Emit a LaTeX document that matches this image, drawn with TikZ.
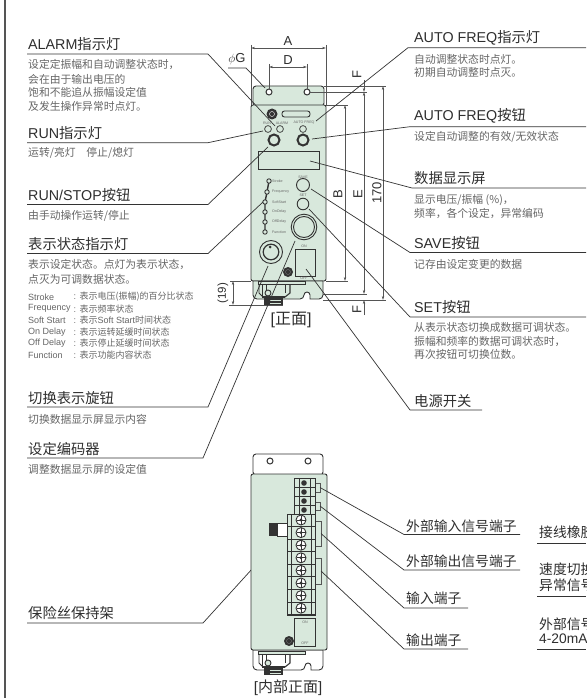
\documentclass[tikz,border=0pt]{standalone}
\usepackage{fontspec}
\setmainfont{Liberation Sans}
\newfontfamily\cjk{Noto Sans CJK SC}
\usetikzlibrary{arrows.meta}
\newcommand{\Z}[1]{{\cjk #1}}
\definecolor{panel}{HTML}{D8E8DC}
\definecolor{ink}{HTML}{2E2E2E}
\definecolor{soft}{HTML}{666666}
\definecolor{edge}{HTML}{333333}
\definecolor{dimc}{HTML}{555555}
\tikzset{
 title/.style={anchor=west,inner sep=0pt,text=ink,font=\fontsize{14.3}{14.3}\selectfont},
 desc/.style={anchor=west,inner sep=0pt,text=soft,font=\fontsize{10.8}{10.8}\selectfont},
 listt/.style={anchor=west,inner sep=0pt,text=soft,font=\fontsize{9}{9}\selectfont},
 tiny/.style={inner sep=0pt,text=soft,font=\fontsize{3.6}{3.6}\selectfont},
 dimt/.style={inner sep=0pt,text=ink,font=\fontsize{13}{13}\selectfont},
 leader/.style={draw=edge,line width=.7pt},
 dimline/.style={draw=dimc,line width=.6pt,{Stealth[length=4pt,width=2.4pt]}-{Stealth[length=4pt,width=2.4pt]}},
 oneway/.style={draw=dimc,line width=.6pt,-{Stealth[length=4pt,width=2.4pt]}},
 ext/.style={draw=dimc,line width=.8pt},
 case/.style={draw=edge,line width=.9pt},
 led/.style={draw=edge,fill=panel,line width=.7pt},
 knob/.style={draw=edge,fill=panel,line width=2pt},
 ring/.style={draw=edge,fill=panel,line width=.9pt},
 brk/.style={draw=dimc,line width=.7pt},
}
\newcommand{\connector}{%
 \draw[edge,line width=.7pt,fill=panel] (258,281) rectangle (305,284);
 \draw[edge,line width=.9pt] (259,284) -- (259,293) -- (263,297);
 \draw[edge,line width=1.1pt] (290,284) -- (290,293) -- (285,297);
 \draw[edge,line width=.7pt] (285,285) -- (285,293);
 \draw[edge,line width=1.4pt] (262.5,285) -- (262.5,297) -- (285,297);
 \draw[edge,line width=.7pt] (266,285) -- (266,291);
 \draw[edge,line width=.9pt,fill=panel] (268,293) circle[radius=3pt];
 \fill[edge] (264,298) rectangle (283,305);
 \draw[panel,line width=.7pt] (270,300) -- (281,300) (270,303) -- (281,303);
}
\begin{document}
\begin{tikzpicture}[x=1pt,y=-1pt]
\useasboundingbox (0,0) rectangle (586,698);
\fill[white] (0,0) rectangle (586,698);
\draw[dimc,line width=1.6pt] (5,0) -- (5,698);

% ---------- upper device ----------
\draw[case,fill=panel] (253,106) -- (253,90) [rounded corners=3pt] -- (253,86) -- (324,86) -- (324,106) -- cycle;
\draw[case,fill=panel,rounded corners=2pt] (251,105) rectangle (326,281);
\draw[case,fill=panel] (253,281) [rounded corners=4pt] -- (253,299) -- (304,299) [sharp corners] -- (304,295) arc[start angle=180,end angle=0,radius=3pt] -- (310,299) [rounded corners=4pt] -- (323,299) [sharp corners] -- (323,281) -- cycle;
\connector
\draw[led,line width=1pt,fill=white] (269,92) circle[radius=3pt];
\draw[led,line width=1pt,fill=white] (307,92) circle[radius=3pt];
\fill[edge] (272,114) circle[radius=5.5pt];
\draw[white,line width=.4pt] (272,114) circle[radius=2.5pt];
\draw[case,fill=panel,rounded corners=2.5pt] (282,111) rectangle (310,117);
\node[tiny] (trun) at (267,123) {RUN};
\node[tiny] (talarm) at (282,123) {ALARM};
\node[tiny] (tauto) at (304,123) {AUTO FREQ};
\draw[led] (268,129) circle[radius=3.4pt];
\draw[led] (280,129) circle[radius=3.4pt];
\draw[led] (303,129) circle[radius=3.4pt];
\draw[knob] (274,140) circle[radius=5.5pt];
\draw[knob] (303,140) circle[radius=5.5pt];
\draw[case,fill=panel] (258,151) rectangle (319,169);
\draw[edge,line width=1.4pt] (269,181) -- (267,192) -- (265,202) -- (265,232);
\foreach \nm/\y/\x in {Stroke/181/269,Frequency/192/267,SoftStart/202/265,OnDelay/212/265,OffDelay/222/265,Function/232/265}{
 \draw[led,line width=.9pt] (\x,\y) circle[radius=2.2pt];
 \node[tiny,anchor=west] (t\nm) at (272,\y) {\nm};
}
\node[tiny] (tsave) at (303,177) {SAVE};
\draw[ring] (303,185) circle[radius=6.5pt];
\node[tiny] (tset) at (303,195) {SET};
\draw[ring] (303,204) circle[radius=5.8pt];
\draw[ring] (304,227) circle[radius=12.8pt];
\draw[ring] (304,227) circle[radius=10.5pt];
\draw[ring] (271,252) circle[radius=11.5pt];
\draw[draw=edge,fill=panel,line width=1.2pt] (271,252) circle[radius=7.8pt];
\fill[edge] (270,247) circle[radius=1.5pt];
\fill[edge] (288,272) circle[radius=5pt];
\draw[gray,line width=.3pt] (288,272) circle[radius=2.5pt];
\draw[case,fill=panel] (295,249) rectangle (315,276);
\node[tiny] (ton) at (304,246) {ON};
\node[tiny] (toff) at (304,278.5) {OFF};
\node[inner sep=0pt,text=ink,font=\fontsize{16}{16}\selectfont] (front) at (291,320) {[\Z{正面}]};

% ---------- dimensions, upper device ----------
\coordinate (lx) at (251,105); \coordinate (rx) at (326,105);
\draw[ext] (251,45) -- (lx);
\draw[ext] (326,45) -- (rx);
\draw[dimline] (251,48) -- (326,48);
\node[dimt] (dA) at (288,41) {A};
\draw[ext] (269,64) -- (269,89);
\draw[ext] (307,64) -- (307,89);
\draw[dimline] (269,67) -- (307,67);
\node[dimt] (dD) at (288,60) {D};
\node[dimt] (dG) at (237,59.5) {$\phi$G};
\coordinate (gA) at (228,68); \coordinate (gB) at (246,68); \coordinate (gC) at (265,88);
\draw[leader] (gA) -- (gB) -- (gC);
\draw[ext,line width=.6pt] (324,86) -- (386,86);
\draw[ext] (310,92) -- (367,92);
\draw[ext,line width=.6pt] (326,105) -- (348,105);
\draw[ext,line width=.6pt] (326,281) -- (348,281);
\draw[ext,line width=.6pt] (323,294) -- (367,294);
\draw[ext,line width=.6pt] (229,305) -- (283,305);
\draw[ext,line width=.6pt] (323,300) -- (386,300);
\draw[ext,line width=.6pt] (230,281) -- (251,281);
\draw[dimline] (345,105) -- (345,281);
\draw[dimline] (364,92) -- (364,294);
\draw[dimline] (383,86) -- (383,300);
\draw[dimline] (233,281) -- (233,305);
\draw[oneway] (364,80) -- (364,92);
\draw[oneway] (364,315) -- (364,300);
\node[dimt,rotate=90] (dFa) at (357,75) {F};
\node[dimt,rotate=90] (dB) at (338,194) {B};
\node[dimt,rotate=90] (dE) at (358,194) {E};
\node[dimt,rotate=90] (d170) at (377,193) {170};
\node[dimt,rotate=90] (dFb) at (357,310) {F};
\node[dimt,rotate=90,font=\fontsize{11.5}{11.5}\selectfont] (d19) at (223,293) {(19)};

% ---------- left labels ----------
\node[title] (n1) at (28,44) {ALARM\Z{指示灯}};
\node[desc] (n1a) at (28,65) {\Z{设定定振幅和自动调整状态时，}};
\node[desc] (n1b) at (28,79) {\Z{会在由于输出电压的}};
\node[desc] (n1c) at (28,92.5) {\Z{饱和不能追从振幅设定值}};
\node[desc] (n1d) at (28,106) {\Z{及发生操作异常时点灯。}};
\draw[leader] (27,54) coordinate (c1a) -- (208,54) coordinate (c1b) -- (275,126) coordinate (c1c);

\node[title] (n2) at (28,133) {RUN\Z{指示灯}};
\node[desc] (n2a) at (28,153) {\Z{运转/亮灯\quad 停止/熄灯}};
\draw[leader] (27,142.7) coordinate (c2a) -- (208,142.7) coordinate (c2b) -- (263,131) coordinate (c2c);

\node[title] (n3) at (28,195) {RUN/STOP\Z{按钮}};
\node[desc] (n3a) at (28,216) {\Z{由手动操作运转/停止}};
\draw[leader] (27,204.5) coordinate (c3a) -- (208,204.5) coordinate (c3b) -- (268,147) coordinate (c3c);

\node[title] (n4) at (28,244) {\Z{表示状态指示灯}};
\node[desc] (n4a) at (28,265) {\Z{表示设定状态。点灯为表示状态，}};
\node[desc] (n4b) at (28,279) {\Z{点灭为可调数据状态。}};
\draw[leader] (27,253.5) coordinate (c4a) -- (208,253.5) coordinate (c4b) -- (263,202) coordinate (c4c);

\node[listt] (l1a) at (28,297) {Stroke};
\node[listt] (l2a) at (28,308.7) {Frequency};
\node[listt] (l3a) at (28,320.3) {Soft Start};
\node[listt] (l4a) at (28,332) {On Delay};
\node[listt] (l5a) at (28,343.5) {Off Delay};
\node[listt] (l6a) at (28,355) {Function};
\node[listt] (l1b) at (73.5,297) {: \Z{表示电压(振幅)的百分比状态}};
\node[listt] (l2b) at (73.5,308.7) {: \Z{表示频率状态}};
\node[listt] (l3b) at (73.5,320.3) {: \Z{表示}Soft Start\Z{时间状态}};
\node[listt] (l4b) at (73.5,332) {: \Z{表示运转延缓时间状态}};
\node[listt] (l5b) at (73.5,343.5) {: \Z{表示停止延缓时间状态}};
\node[listt] (l6b) at (73.5,355) {: \Z{表示功能内容状态}};

\node[title] (n5) at (28,398) {\Z{切换表示旋钮}};
\node[desc] (n5a) at (28,419) {\Z{切换数据显示屏显示内容}};
\draw[leader] (27,407) coordinate (c5a) -- (208,407) coordinate (c5b) -- (268,266) coordinate (c5c);

\node[title] (n6) at (28,449) {\Z{设定编码器}};
\node[desc] (n6a) at (28,469) {\Z{调整数据显示屏的设定值}};
\draw[leader] (27,458) coordinate (c6a) -- (203,458) coordinate (c6b) -- (295,241) coordinate (c6c);

\node[title] (n7) at (28,613) {\Z{保险丝保持架}};
\draw[leader] (27,623) coordinate (c7a) -- (203,623) coordinate (c7b) -- (282,536) coordinate (c7c);

% ---------- right labels ----------
\node[title] (r1) at (414,38) {AUTO FREQ\Z{指示灯}};
\node[desc] (r1a) at (414,59) {\Z{自动调整状态时点灯。}};
\node[desc] (r1b) at (414,72) {\Z{初期自动调整时点灭。}};
\draw[leader] (586,47.7) coordinate (d1a) -- (408,47.7) coordinate (d1b) -- (316,121) coordinate (d1c);

\node[title] (r2) at (414,116) {AUTO FREQ\Z{按钮}};
\node[desc] (r2a) at (414,137) {\Z{设定自动调整的有效/无效状态}};
\draw[leader] (586,126.7) coordinate (d2a) -- (410,126.7) coordinate (d2b) -- (312,139) coordinate (d2c);

\node[title] (r3) at (414,178) {\Z{数据显示屏}};
\node[desc] (r3a) at (414,200) {\Z{显示电压/振幅 (\%)，}};
\node[desc] (r3b) at (414,213) {\Z{频率，各个设定，异常编码}};
\draw[leader] (586,188) coordinate (d3a) -- (412,188) coordinate (d3b) -- (310,161) coordinate (d3c);

\node[title] (r4) at (414,243) {SAVE\Z{按钮}};
\node[desc] (r4a) at (414,264) {\Z{记存由设定变更的数据}};
\draw[leader] (586,252.5) coordinate (d4a) -- (410,252.5) coordinate (d4b) -- (311,189) coordinate (d4c);

\node[title] (r5) at (414,307) {SET\Z{按钮}};
\node[desc] (r5a) at (414,327) {\Z{从表示状态切换成数据可调状态。}};
\node[desc] (r5b) at (414,341) {\Z{振幅和频率的数据可调状态时，}};
\node[desc] (r5c) at (414,354) {\Z{再次按钮可切换位数。}};
\draw[leader] (586,317) coordinate (d5a) -- (410,317) coordinate (d5b) -- (309,209) coordinate (d5c);

\node[title] (r6) at (414,401) {\Z{电源开关}};
\draw[leader] (482,410) coordinate (d6a) -- (410,410) coordinate (d6b) -- (306,269) coordinate (d6c);

% ---------- lower device ----------
\draw[case,fill=white] (253,475) -- (253,458) [rounded corners=3pt] -- (253,454) -- (323,454) -- (323,475) -- cycle;
\draw[led,line width=1pt,fill=white] (270,461) circle[radius=3pt];
\draw[led,line width=1pt,fill=white] (308,461) circle[radius=3pt];
\draw[case,fill=white] (253,650) [rounded corners=4pt] -- (253,670) -- (305,670) [sharp corners] -- (305,666) arc[start angle=180,end angle=0,radius=3pt] -- (311,670) [rounded corners=4pt] -- (323,670) [sharp corners] -- (323,650) -- cycle;
\draw[case,fill=panel,rounded corners=2pt] (251,474) rectangle (327,650);
\begin{scope}[shift={(0,370)}]
\connector
\end{scope}
\draw[case,fill=panel,line width=.8pt] (294,478) rectangle (315,514);
\foreach \y in {483,492,501,510}{
 \draw[edge,line width=.5pt] (294,\y-4.5) -- (315,\y-4.5);
 \fill[edge] (304,\y) circle[radius=2.8pt];
 \draw[edge,line width=.5pt] (299,\y-4.5) -- (299,\y+4.5);
 \draw[edge,line width=.5pt] (310,\y-4.5) -- (310,\y+4.5);
}
\draw[case,fill=panel,line width=.8pt] (287,514) rectangle (315,615);
\draw[edge,line width=.5pt] (291,514) -- (291,615);
\draw[edge,line width=.5pt] (311,514) -- (311,615);
\foreach \y in {520,532.6,545.2,557.8,570.4,583,595.6,608.2}{
 \draw[edge,line width=.5pt] (287,\y+6.3) -- (315,\y+6.3);
 \draw[edge,line width=.9pt,fill=white] (301,\y) circle[radius=5pt];
 \draw[edge,line width=.8pt] (301,\y-4.5) -- (301,\y+4.5) (296.5,\y) -- (305.5,\y);
 \fill[edge] (301,\y) circle[radius=1.6pt];
}
\fill[edge] (269,523) rectangle (277,536);
\draw[case,fill=white] (277,523) rectangle (287,536);
\draw[case,fill=panel] (294,618) rectangle (315,646);
\node[tiny] (bon) at (305,622) {ON};
\node[tiny] (boff) at (305,643) {OFF};
\fill[edge] (289,641) circle[radius=5pt];
\draw[gray,line width=.3pt] (289,641) circle[radius=2.5pt];
\coordinate (b1) at (320,487.5); \coordinate (b2) at (320,506); \coordinate (b3) at (321,533.5); \coordinate (b4) at (321,571);
\draw[brk] (316,483) -- (320,483) -- (320,492) -- (316,492);
\draw[brk] (316,502) -- (320,502) -- (320,510) -- (316,510);
\draw[brk] (316,521) -- (321,521) -- (321,546) -- (316,546);
\draw[brk] (316,558) -- (321,558) -- (321,584) -- (316,584);
\node[inner sep=0pt,text=ink,font=\fontsize{15}{15}\selectfont] (inner) at (288,688) {[\Z{内部正面}]};

\node[title,font=\fontsize{13.8}{13.8}\selectfont] (b1t) at (406,526) {\Z{外部输入信号端子}};
\draw[leader] (520,534.5) coordinate (e1a) -- (404,534.5) coordinate (e1b) -- (b1);
\node[title,font=\fontsize{13.8}{13.8}\selectfont] (b2t) at (406,561) {\Z{外部输出信号端子}};
\draw[leader] (520,570) coordinate (e2a) -- (404,570) coordinate (e2b) -- (b2);
\node[title,font=\fontsize{13.8}{13.8}\selectfont] (b3t) at (406,598) {\Z{输入端子}};
\draw[leader] (468,608) coordinate (e3a) -- (404,608) coordinate (e3b) -- (b3);
\node[title,font=\fontsize{13.8}{13.8}\selectfont] (b4t) at (406,640) {\Z{输出端子}};
\draw[leader] (468,649) coordinate (e4a) -- (404,649) coordinate (e4b) -- (b4);

\node[title,font=\fontsize{13.8}{13.8}\selectfont] (x1) at (539,532) {\Z{接线橡胶}};
\draw[leader] (537,543) coordinate (f1a) -- (586,543) coordinate (f1b);
\node[title,font=\fontsize{13.8}{13.8}\selectfont] (x2) at (539,569) {\Z{速度切换}};
\node[title,font=\fontsize{13.8}{13.8}\selectfont] (x3) at (539,585) {\Z{异常信号}};
\draw[leader] (537,596) coordinate (f2a) -- (586,596) coordinate (f2b);
\node[title,font=\fontsize{13.8}{13.8}\selectfont] (x4) at (539,624) {\Z{外部信号}};
\node[title,font=\fontsize{13.8}{13.8}\selectfont] (x5) at (539,639) {4-20mA};
\draw[leader] (537,649) coordinate (f3a) -- (586,649) coordinate (f3b);
\end{tikzpicture}
\end{document}
